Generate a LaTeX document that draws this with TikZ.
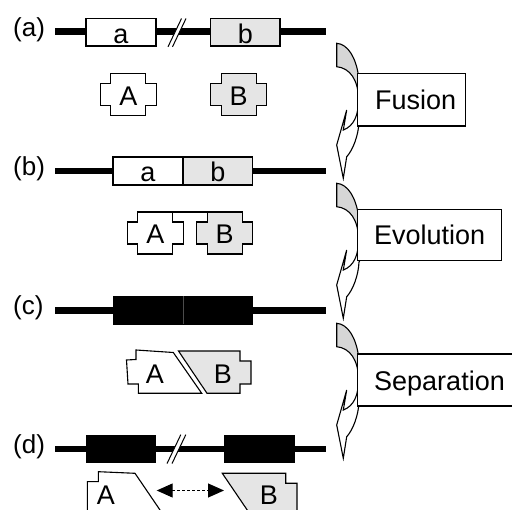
\documentclass[tikz,border=0pt]{standalone}
\usepackage{fontspec}
\setmainfont{Liberation Sans}
\usetikzlibrary{arrows.meta}
\definecolor{boxgray}{gray}{0.9}
\definecolor{arrgray}{gray}{0.84}
\newcommand\myCurvedArrow[1]{%
  \begin{scope}[shift={(0,#1)}]
    \draw[arrline, fill=arrgray] (336.7,66.7) -- (336.7,43.3)
      .. controls (348,44) and (356,58) .. (358.5,76) -- (358.5,80) -- (366,80) -- (366,100) -- (358.5,100)
      .. controls (358.5,80) and (350,68) .. (336.7,66.7) -- cycle;
    \draw[arrline, fill=white] (358.5,100)
      .. controls (358.5,115) and (354,126) .. (343.3,130)
      -- (346.7,110) -- (336.7,145) -- (343.3,178.3) -- (346.7,156.7)
      .. controls (353,150) and (358.5,135) .. (359,122)
      -- (366,110) -- cycle;
  \end{scope}}
\begin{document}
\begin{tikzpicture}[x=1pt,y=-1pt,
  geneline/.style={line width=6.8pt},
  genebox/.style={draw, line width=1.1pt},
  shapeline/.style={line width=1.1pt, line join=miter},
  arrline/.style={line width=1.1pt, line join=miter},
  txt/.style={inner sep=0pt, font=\fontsize{26}{30}\selectfont},
  ltxt/.style={inner sep=0pt, font=\fontsize{27}{30}\selectfont},
  bigtxt/.style={inner sep=0pt, font=\fontsize{27}{32}\selectfont},
  stepbox/.style={draw, fill=white, line width=1.2pt},
  cross/.pic={\draw[shapeline, pic actions] (-17.5,-21) -- (17.5,-21) -- (17.5,-11) -- (28,-11)
     -- (28,11) -- (17.5,11) -- (17.5,21) -- (-17.5,21) -- (-17.5,11) -- (-28,11)
     -- (-28,-11) -- (-17.5,-11) -- cycle;}
]
\useasboundingbox (0,0) rectangle (512,510);

% ---------- curved arrows and step boxes ----------
\myCurvedArrow{0}
\myCurvedArrow{140}
\myCurvedArrow{280}
\draw[stepbox] (357.3,73.3) rectangle (465.7,126);
\node[bigtxt, anchor=base west] (fusion) at (375,110) {Fusion};
\draw[stepbox] (357.3,209.3) rectangle (501.7,260.7);
\node[bigtxt, anchor=base west] (evolution) at (374,245) {Evolution};
\draw[stepbox] (357.3,354) rectangle (514,406);
\node[bigtxt, anchor=base west] (separation) at (374,390.7) {Separation};

% ---------- row (a) ----------
\node[txt, anchor=base west] (la) at (13,36.3) {(a)};
\draw[geneline] (55,31.7) -- (326,31.7);
\draw[genebox, fill=white] (86,18.3) rectangle (156,46);
\draw[genebox, fill=boxgray] (210.7,18.3) rectangle (280,46);
\node[ltxt, anchor=base] (ga) at (121,43.3) {a};
\node[ltxt, anchor=base] (gb) at (245.3,43.3) {b};
\fill[white] (168,46.8) -- (181.5,18.5) -- (186,18.5) -- (172.5,46.8) -- cycle;
\draw[line width=1pt] (168,46.8) -- (181.5,18.5) (172.5,46.8) -- (186,18.5);
\pic[fill=white] at (128.3,94.2) {cross};
\pic[fill=boxgray] at (238.7,94.2) {cross};
\node[ltxt] (pa) at (128.3,96) {A};
\node[ltxt] (pb) at (238.7,96) {B};

% ---------- row (b) ----------
\node[txt, anchor=base west] (lb) at (13,176) {(b)};
\draw[geneline] (55,171) -- (326,171);
\draw[genebox, fill=white] (113,157) rectangle (183,185);
\draw[genebox, fill=boxgray] (183,157) rectangle (252.7,185);
\node[ltxt, anchor=base] (gba) at (148,182) {a};
\node[ltxt, anchor=base] (gbb) at (217.8,182) {b};
\pic[fill=white] at (155.3,233) {cross};
\pic[fill=boxgray] at (224.7,233) {cross};
\coordinate (jA) at (172.8,212);
\coordinate (jB) at (207.2,212);
\draw[shapeline] (jA) -- (jB);
\node[ltxt] (pba) at (155.3,234.5) {A};
\node[ltxt] (pbb) at (224.7,234.5) {B};

% ---------- row (c) ----------
\node[txt, anchor=base west] (lc) at (13,315) {(c)};
\draw[geneline] (55,310.5) -- (326,310.5);
\fill[black] (113,296) rectangle (253,325);
\draw[black!70, line width=0.5pt] (183.3,296.5) -- (183.3,324.5);
\draw[shapeline, fill=white] (136,350) -- (173.3,352.5) -- (201.7,393.3) -- (138.3,393.3)
   -- (138.3,384) -- (128,384) -- (126.5,360) -- (136,359.5) -- cycle;
\draw[shapeline, fill=boxgray] (178.5,351) -- (240,351) -- (240,361) -- (251,361)
   -- (251,384) -- (240,384) -- (240,393.3) -- (207,393.3) -- cycle;
\node[ltxt] (pca) at (155,374.5) {A};
\node[ltxt] (pcb) at (223,374.5) {B};

% ---------- row (d) ----------
\node[txt, anchor=base west] (ld) at (13,453.5) {(d)};
\draw[geneline] (55,449) -- (326,449);
\fill[black] (85.7,435) rectangle (156,463.3);
\fill[black] (224.3,435) rectangle (295,463.3);
\fill[white] (167,463.6) -- (180.8,434.7) -- (185.8,434.7) -- (172,463.6) -- cycle;
\draw[line width=1pt] (167,463.6) -- (180.8,434.7) (172,463.6) -- (185.8,434.7);
\draw[shapeline, fill=white] (98.3,471.7) -- (135,473.3) -- (166.8,520) -- (87.3,520)
   -- (87.3,481.7) -- (98.3,481.7) -- cycle;
\draw[shapeline, fill=boxgray] (222.3,473.3) -- (285.7,473.3) -- (285.7,483.3) -- (297,483.3)
   -- (297,520) -- (254,520) -- cycle;
\node[ltxt] (pda) at (106,495.5) {A};
\node[ltxt] (pdb) at (269,495.5) {B};
\coordinate (dl) at (156.7,490.5);
\coordinate (dr) at (224,490.5);
\draw[line width=1pt, dash pattern=on 3pt off 2pt,
  {Triangle[length=16pt,width=14pt]}-{Triangle[length=16pt,width=14pt]}] (dl) -- (dr);
\end{tikzpicture}
\end{document}
